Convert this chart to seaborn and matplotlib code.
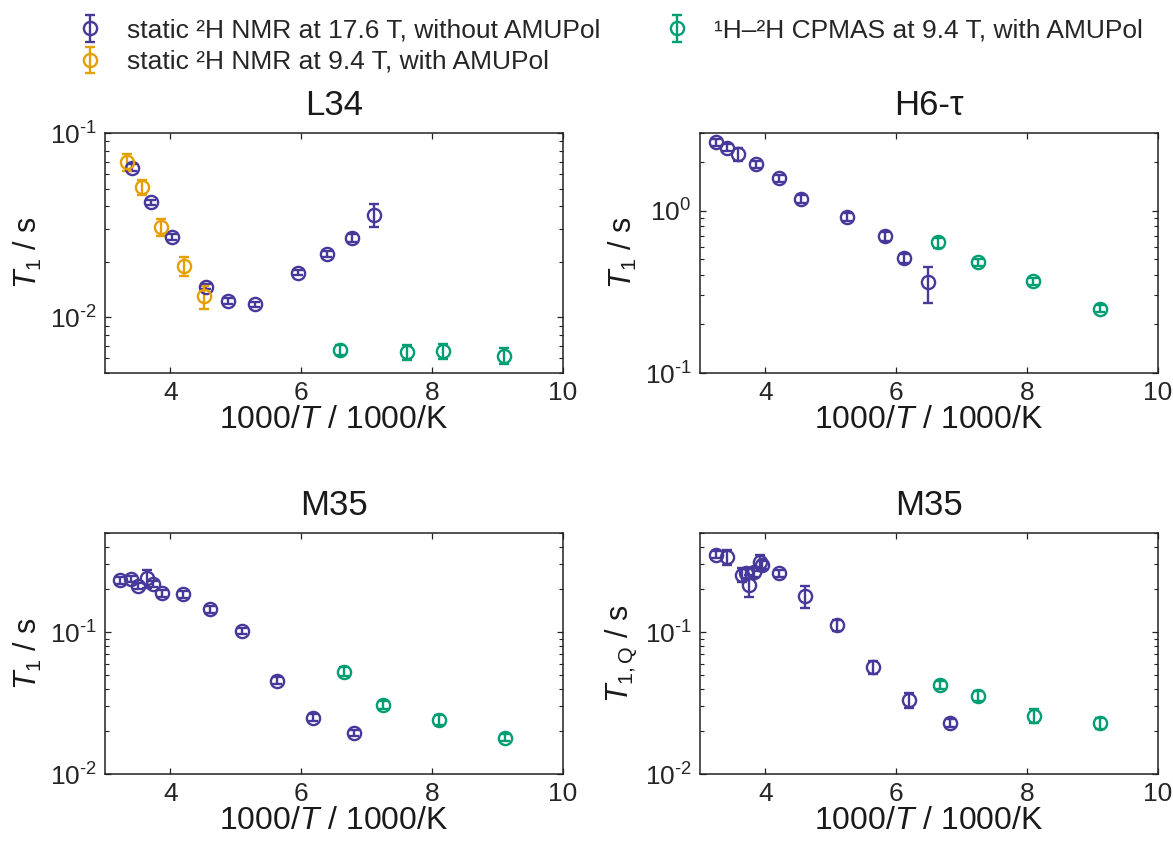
import numpy as np
import matplotlib
matplotlib.use("Agg")
import matplotlib.pyplot as plt
import matplotlib.ticker as mticker
import seaborn as sns

# ---------------- data ----------------
# L34
l34_static176_x = [3.41, 3.71, 4.03, 4.54, 4.88, 5.29, 5.95, 6.39, 6.77, 7.11]
l34_static176_y = [0.0649, 0.0421, 0.0272, 0.0147, 0.0123, 0.0118, 0.0175, 0.0220, 0.0269, 0.0360]
l34_static176_e = [0.003, 0.0015, 0.001, 0.0005, 0.0004, 0.0004, 0.0006, 0.0008, 0.0013, 0.005]
l34_static94_x = [3.34, 3.57, 3.85, 4.20, 4.51]
l34_static94_y = [0.0698, 0.0508, 0.0310, 0.0190, 0.0130]
l34_static94_e = [0.0075, 0.0045, 0.0032, 0.0022, 0.0019]
l34_cpmas_x = [6.59, 7.62, 8.17, 9.10]
l34_cpmas_y = [0.00667, 0.00648, 0.00659, 0.00619]
l34_cpmas_e = [0.0004, 0.0006, 0.0006, 0.0006]

# H6-tau
h6_static176_x = [3.25, 3.41, 3.58, 3.85, 4.21, 4.55, 5.25, 5.83, 6.12, 6.48]
h6_static176_y = [2.63, 2.43, 2.22, 1.92, 1.58, 1.18, 0.91, 0.693, 0.508, 0.361]
h6_static176_e = [0.12, 0.12, 0.2, 0.1, 0.08, 0.07, 0.05, 0.04, 0.03, 0.09]
h6_cpmas_x = [6.64, 7.25, 8.09, 9.11]
h6_cpmas_y = [0.637, 0.481, 0.367, 0.249]
h6_cpmas_e = [0.045, 0.025, 0.02, 0.012]

# M35 T1
m35_static176_x = [3.23, 3.39, 3.51, 3.64, 3.74, 3.87, 4.19, 4.60, 5.09, 5.63, 6.18, 6.81]
m35_static176_y = [0.232, 0.238, 0.211, 0.240, 0.219, 0.188, 0.185, 0.1445, 0.1027, 0.0456, 0.0250, 0.0195]
m35_static176_e = [0.012, 0.012, 0.01, 0.035, 0.012, 0.01, 0.01, 0.008, 0.005, 0.0025, 0.0013, 0.001]
m35_cpmas_x = [6.66, 7.25, 8.10, 9.11]
m35_cpmas_y = [0.0527, 0.0307, 0.0240, 0.0180]
m35_cpmas_e = [0.004, 0.002, 0.002, 0.001]

# M35 T1Q
m35q_static176_x = [3.24, 3.41, 3.64, 3.71, 3.75, 3.82, 3.91, 3.95, 4.21, 4.61, 5.10, 5.65, 6.19, 6.82]
m35q_static176_y = [0.351, 0.337, 0.254, 0.26, 0.216, 0.264, 0.310, 0.299, 0.261, 0.179, 0.1127, 0.0570, 0.0330, 0.0230]
m35q_static176_e = [0.02, 0.04, 0.03, 0.02, 0.038, 0.02, 0.04, 0.02, 0.015, 0.031, 0.01, 0.006, 0.004, 0.0015]
m35q_cpmas_x = [6.67, 7.25, 8.10, 9.11]
m35q_cpmas_y = [0.0425, 0.0355, 0.0257, 0.0227]
m35q_cpmas_e = [0.003, 0.003, 0.003, 0.002]

series_labels = [
    "static \u00b2H NMR at 17.6 T, without AMUPol",
    "static \u00b2H NMR at 9.4 T, with AMUPol",
    "\u00b9H\u2013\u00b2H CPMAS at 9.4 T, with AMUPol",
]
panel_titles = ["L34", "H6-\u03c4", "M35", "M35"]
y_labels = [r"$T_1$ / s", r"$T_1$ / s", r"$T_1$ / s", r"$T_{\mathrm{1,Q}}$ / s"]
x_label = r"1000/$T$ / 1000/K"

# ---------------- style ----------------
sns.set_theme(style="ticks")
plt.rcParams["font.family"] = ["Liberation Sans", "DejaVu Sans"]
plt.rcParams["mathtext.fontset"] = "custom"
plt.rcParams["mathtext.rm"] = "Liberation Sans"
plt.rcParams["mathtext.it"] = "Liberation Sans:italic"
plt.rcParams["mathtext.bf"] = "Liberation Sans:bold"
plt.rcParams["axes.unicode_minus"] = False

colors = ["#46399A", "#E69F00", "#009E73"]

W, H = 1173, 841
fig = plt.figure(figsize=(W / 100, H / 100), dpi=100)

def frac(l, r, t, b):
    return [l / W, 1 - b / H, (r - l) / W, (b - t) / H]

axes = [
    fig.add_axes(frac(105, 563, 133, 373)),
    fig.add_axes(frac(700, 1158, 133, 373)),
    fig.add_axes(frac(105, 563, 533, 774)),
    fig.add_axes(frac(700, 1158, 533, 774)),
]

panels = [
    [(l34_static176_x, l34_static176_y, l34_static176_e, 0),
     (l34_static94_x, l34_static94_y, l34_static94_e, 1),
     (l34_cpmas_x, l34_cpmas_y, l34_cpmas_e, 2)],
    [(h6_static176_x, h6_static176_y, h6_static176_e, 0),
     (h6_cpmas_x, h6_cpmas_y, h6_cpmas_e, 2)],
    [(m35_static176_x, m35_static176_y, m35_static176_e, 0),
     (m35_cpmas_x, m35_cpmas_y, m35_cpmas_e, 2)],
    [(m35q_static176_x, m35q_static176_y, m35q_static176_e, 0),
     (m35q_cpmas_x, m35q_cpmas_y, m35q_cpmas_e, 2)],
]
ylims = [(0.005, 0.1), (0.1, 3.0), (0.01, 0.5), (0.01, 0.5)]


def log_fmt(v, pos):
    e = int(round(np.log10(v)))
    if e < 0:
        return r"$\mathdefault{10^{\text{-}%d}}$" % (-e)
    return r"$\mathdefault{10^{%d}}$" % e


handles = {}
for ax, series, yl, title, ylab in zip(axes, panels, ylims, panel_titles, y_labels):
    for xs, ys, es, ci in series:
        h = ax.errorbar(xs, ys, yerr=es, fmt="o", mfc="none", mec=colors[ci],
                        ms=9.5, mew=1.7, ecolor=colors[ci], elinewidth=1.7,
                        capsize=3.5, capthick=1.7, color=colors[ci])
        handles.setdefault(ci, h)
    ax.set_yscale("log")
    ax.set_xlim(3, 10)
    ax.set_ylim(*yl)
    ax.set_xticks([4, 6, 8, 10])
    ax.yaxis.set_major_locator(mticker.LogLocator(base=10))
    ax.yaxis.set_major_formatter(mticker.FuncFormatter(log_fmt))
    ax.yaxis.set_minor_formatter(mticker.NullFormatter())
    ax.tick_params(which="both", direction="in", top=True, right=True,
                   labelsize=19, color="#222222", pad=6)
    ax.tick_params(which="major", length=4, width=0.9)
    ax.tick_params(which="minor", length=3, width=0.8)
    for s in ax.spines.values():
        s.set_linewidth(1.1)
        s.set_color("#222222")
    ax.set_title(title, fontsize=25, pad=13, color="#1a1a1a")
    ax.set_xlabel(x_label, fontsize=23, labelpad=0, color="#1a1a1a")
    ax.set_ylabel(ylab, fontsize=22, labelpad=4, color="#1a1a1a")

leg = fig.legend([handles[0], handles[1], handles[2]], series_labels,
                 loc="upper left", bbox_to_anchor=(64 / W, 1 - 8 / H),
                 ncol=2, frameon=False, fontsize=19, handlelength=1.2,
                 handletextpad=0.8, columnspacing=2.3, labelspacing=0.28,
                 borderaxespad=0)

fig.savefig("out.png", dpi=100)
